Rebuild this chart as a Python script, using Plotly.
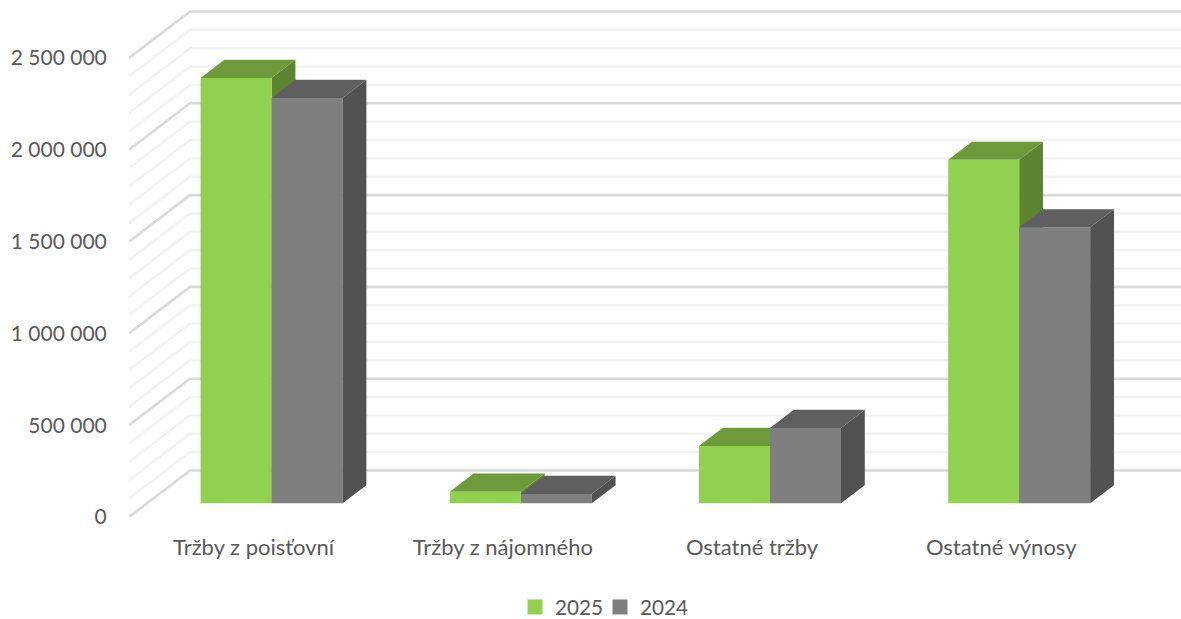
import plotly.graph_objects as go

categories = ["Tržby z poisťovní", "Tržby z nájomného", "Ostatné tržby", "Ostatné výnosy"]
series_names = ["2025", "2024"]
values_2025 = [2317000, 63000, 312000, 1871000]
values_2024 = [2208000, 51000, 410000, 1503000]
tick_values = [0, 500000, 1000000, 1500000, 2000000, 2500000]
tick_labels = ["0", "500 000", "1 000 000", "1 500 000", "2 000 000", "2 500 000"]
minor_step = 100000

colors_2025 = dict(front="#92D050", top="#6F9A3C", side="#5D8430")
colors_2024 = dict(front="#7F7F7F", top="#5F5F5F", side="#525252")
MAJOR = "#D9D9D9"
MINOR = "#F2F2F2"
TEXT = "#595959"
FONT = "Lato"

W, H = 1181, 619
L, B = 129, 102
PX_PER_CAT = 249.2
PX_PER_UNIT = 91.8 / 500000
x_range = [-0.5, -0.5 + (W - L) / PX_PER_CAT]
y_range = [0, (H - B) / PX_PER_UNIT]

# Oblique projection: depth d in [0, 1] moves a point right and up.
DX = 61 / PX_PER_CAT
DY = 46.5 / PX_PER_UNIT
D0, D1 = 0.295, 0.685
BAR_W = 71 / PX_PER_CAT


def proj(x, v, d):
    return x + d * DX, v + d * DY


fig = go.Figure()

# Walls: grid lines run along the left wall and then across the back wall.
steps = range(0, tick_values[-1] + minor_step, minor_step)
for is_major, color, lw in ((False, MINOR, 2.4), (True, MAJOR, 2.6)):
    xs, ys = [], []
    for v in steps:
        if (v in tick_values) != is_major:
            continue
        for x, d in ((-0.5, 0), (-0.5, 1), (x_range[1], 1)):
            px, py = proj(x, v, d)
            xs.append(px if x != x_range[1] else x)
            ys.append(py)
        xs.append(None)
        ys.append(None)
    fig.add_trace(go.Scatter(x=xs, y=ys, mode="lines", line=dict(color=color, width=lw),
                             hoverinfo="skip", showlegend=False, cliponaxis=False))


def faces(values, left_offset):
    top_x, top_y, side_x, side_y = [], [], [], []
    for i, v in enumerate(values):
        xl, xr = i + left_offset, i + left_offset + BAR_W
        for x, y in (proj(xl, v, D0), proj(xr, v, D0), proj(xr, v, D1), proj(xl, v, D1)):
            top_x.append(x)
            top_y.append(y)
        top_x.append(None)
        top_y.append(None)
        for x, y in (proj(xr, 0, D0), proj(xr, v, D0), proj(xr, v, D1), proj(xr, 0, D1)):
            side_x.append(x)
            side_y.append(y)
        side_x.append(None)
        side_y.append(None)
    return top_x, top_y, side_x, side_y


series = [(series_names[0], values_2025, colors_2025, -BAR_W, 1, "legend"),
          (series_names[1], values_2024, colors_2024, 0.0, 3, "legend2")]

for name, values, colors, left, z, legend_id in series:
    top_x, top_y, side_x, side_y = faces(values, left)
    base = proj(0, 0, D0)
    fig.add_trace(go.Scatter(x=side_x, y=side_y, mode="lines", fill="toself", fillcolor=colors["side"],
                             line=dict(width=0), hoverinfo="skip", showlegend=False, zorder=z))
    fig.add_trace(go.Scatter(x=top_x, y=top_y, mode="lines", fill="toself", fillcolor=colors["top"],
                             line=dict(width=0), hoverinfo="skip", showlegend=False, zorder=z))
    fig.add_trace(go.Bar(x=[i + left + BAR_W / 2 + base[0] for i in range(len(values))], y=values,
                         base=base[1], width=BAR_W, marker=dict(color=colors["front"], line=dict(width=0)),
                         name=name, showlegend=False, customdata=categories,
                         hovertemplate="%{customdata}<br>" + name + ": %{y:,}<extra></extra>", zorder=2))
    fig.add_trace(go.Scatter(x=[None], y=[None], mode="markers", name=name, legend=legend_id,
                             marker=dict(symbol="square", size=15, color=colors["front"])))


def legend_at(px):
    return dict(orientation="h", x=(px - L) / (W - L), xanchor="left", xref="paper",
                y=-70 / (H - B), yanchor="top", font=dict(size=20.7), bgcolor="rgba(0,0,0,0)",
                itemclick=False, itemdoubleclick=False)


fig.update_layout(
    width=W, height=H,
    margin=dict(l=L, r=0, t=0, b=B, autoexpand=False),
    paper_bgcolor="white", plot_bgcolor="white",
    barmode="overlay",
    font=dict(family=FONT, color=TEXT, size=21),
    xaxis=dict(range=x_range, tickvals=list(range(len(categories))), ticktext=categories,
               showgrid=False, zeroline=False, showline=False, ticks="outside", ticklen=11,
               tickcolor="rgba(0,0,0,0)", tickfont=dict(size=22)),
    yaxis=dict(range=y_range, tickvals=tick_values, ticktext=tick_labels,
               showgrid=False, zeroline=False, showline=False, ticks="outside", ticklen=17,
               tickcolor="rgba(0,0,0,0)", tickfont=dict(size=21)),
    legend=legend_at(515),
    legend2=legend_at(600),
    showlegend=True,
)

fig.write_html("out.html", config={"displayModeBar": False},
               post_script="document.body.style.margin='0';document.body.style.overflow='hidden';")
